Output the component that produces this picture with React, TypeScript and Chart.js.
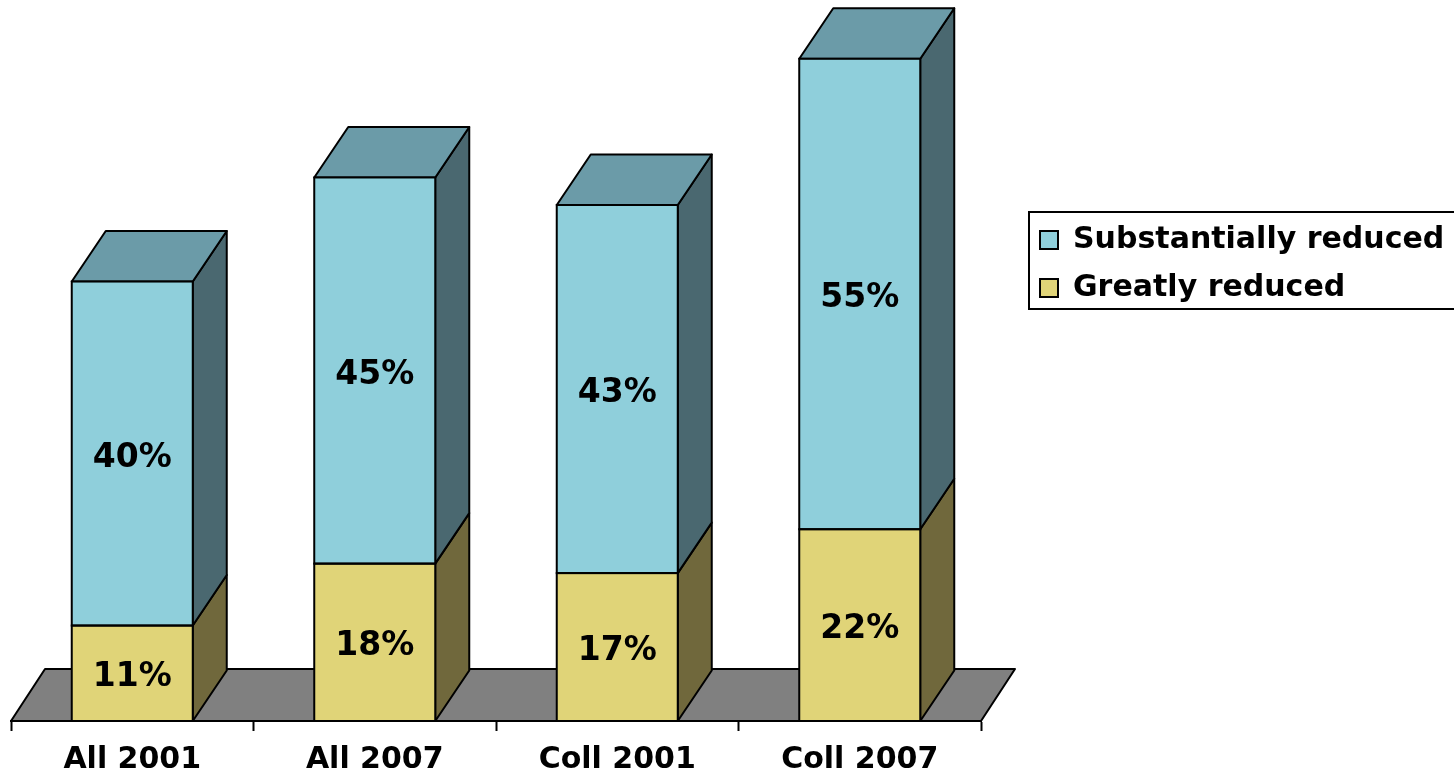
import React, { useEffect, useRef } from "react";
import { Chart, registerables } from "chart.js";

Chart.register(...registerables);

const categories = ["All 2001", "All 2007", "Coll 2001", "Coll 2007"];
const greatlyReduced = [11.1, 18.3, 17.2, 22.3];
const substantiallyReduced = [40, 44.9, 42.8, 54.7];
const greatlyLabels = ["11%", "18%", "17%", "22%"];
const substantiallyLabels = ["40%", "45%", "43%", "55%"];
const seriesNames = ["Greatly reduced", "Substantially reduced"];

const FONT = "'DejaVu Sans', sans-serif";
const DX = 34;
const DY = -50.5;
const INK = "#000000";
const LINE = 2;

const palette = [
  { front: "#E0D478", side: "#70683C", top: "#A89F5A" },
  { front: "#8FCFDB", side: "#4A6870", top: "#6B9BA8" },
];

function poly(ctx: CanvasRenderingContext2D, pts: number[][], fill: string) {
  ctx.beginPath();
  pts.forEach((p, i) => (i ? ctx.lineTo(p[0], p[1]) : ctx.moveTo(p[0], p[1])));
  ctx.closePath();
  ctx.fillStyle = fill;
  ctx.fill();
  ctx.stroke();
}

const depthPlugin = {
  id: "depth",
  afterLayout(chart: any) {
    const l = chart.legend;
    l.left = 1022;
    l.right = 1462;
    l.width = 440;
    l.top = 207;
    l.bottom = 407;
    l.height = 200;
  },
  beforeDatasetsDraw(chart: any) {
    const { ctx, chartArea } = chart;
    const y0 = chartArea.bottom;
    ctx.save();
    ctx.strokeStyle = INK;
    ctx.lineWidth = LINE;
    ctx.lineJoin = "round";
    poly(
      ctx,
      [
        [chartArea.left, y0],
        [chartArea.left + DX, y0 - 52],
        [chartArea.right + DX, y0 - 52],
        [chartArea.right, y0],
      ],
      "#808080"
    );
    chart.data.datasets.forEach((_: any, d: number) => {
      const meta = chart.getDatasetMeta(d);
      meta.data.forEach((bar: any) => {
        const p = bar.getProps(["x", "y", "base", "width"], true);
        const r = p.x + p.width / 2;
        const l = p.x - p.width / 2;
        poly(
          ctx,
          [
            [r, p.base],
            [r + DX, p.base + DY],
            [r + DX, p.y + DY],
            [r, p.y],
          ],
          palette[d].side
        );
        if (d === chart.data.datasets.length - 1) {
          poly(
            ctx,
            [
              [l, p.y],
              [l + DX, p.y + DY],
              [r + DX, p.y + DY],
              [r, p.y],
            ],
            palette[d].top
          );
        }
      });
    });
    ctx.restore();
  },
  afterDatasetsDraw(chart: any) {
    const { ctx } = chart;
    const texts = [greatlyLabels, substantiallyLabels];
    ctx.save();
    ctx.strokeStyle = INK;
    ctx.lineWidth = LINE;
    chart.data.datasets.forEach((_: any, d: number) => {
      chart.getDatasetMeta(d).data.forEach((bar: any) => {
        const p = bar.getProps(["x", "y", "base", "width"], true);
        ctx.strokeRect(p.x - p.width / 2, p.y, p.width, p.base - p.y);
      });
    });
    ctx.fillStyle = INK;
    ctx.font = `bold 33px ${FONT}`;
    ctx.textAlign = "center";
    ctx.textBaseline = "middle";
    chart.data.datasets.forEach((_: any, d: number) => {
      chart.getDatasetMeta(d).data.forEach((bar: any, i: number) => {
        const p = bar.getProps(["x", "y", "base"], true);
        ctx.fillText(texts[d][i], p.x, (p.y + p.base) / 2 + 4.5);
      });
    });
    ctx.restore();
  },
  afterDraw(chart: any) {
    const { ctx } = chart;
    ctx.save();
    ctx.strokeStyle = INK;
    ctx.lineWidth = LINE;
    ctx.strokeRect(1029, 212, 433, 97);
    ctx.restore();
  },
};

export default function App() {
  const ref = useRef<HTMLCanvasElement>(null);
  useEffect(() => {
    document.body.style.margin = "0";
    document.body.style.background = "#ffffff";
    const chart = new Chart(ref.current as HTMLCanvasElement, {
      type: "bar",
      data: {
        labels: categories,
        datasets: [
          {
            label: seriesNames[0],
            data: greatlyReduced,
            backgroundColor: palette[0].front,
            borderColor: INK,
            borderWidth: 0,
            barPercentage: 1,
            categoryPercentage: 0.499,
          },
          {
            label: seriesNames[1],
            data: substantiallyReduced,
            backgroundColor: palette[1].front,
            borderColor: INK,
            borderWidth: 0,
            barPercentage: 1,
            categoryPercentage: 0.499,
          },
        ],
      },
      options: {
        responsive: false,
        animation: false,
        events: [],
        layout: { padding: { left: 11, right: 473, top: 33, bottom: 0 } },
        scales: {
          x: {
            stacked: true,
            afterFit(scale: any) {
              scale.height = 52;
            },
            border: { display: true, color: INK, width: LINE },
            grid: {
              drawOnChartArea: false,
              drawTicks: true,
              tickLength: 10,
              tickColor: INK,
              tickWidth: LINE,
            },
            ticks: {
              color: INK,
              font: { family: FONT, weight: "bold", size: 30 },
              padding: 11,
              maxRotation: 0,
              autoSkip: false,
            },
          },
          y: { stacked: true, display: false, min: 0, max: 80 },
        },
        plugins: {
          tooltip: { enabled: false },
          title: { display: false },
          legend: {
            display: true,
            position: "chartArea",
            align: "start",
            reverse: true,
            labels: {
              color: INK,
              font: { family: FONT, weight: "bold", size: 30 },
              boxWidth: 18,
              boxHeight: 18,
              padding: 18,
              generateLabels(c: any) {
                return Chart.defaults.plugins.legend.labels
                  .generateLabels(c)
                  .map((item: any) => ({ ...item, lineWidth: LINE, strokeStyle: INK }));
              },
            },
          },
        },
      } as any,
      plugins: [depthPlugin],
    });
    return () => chart.destroy();
  }, []);
  return <canvas ref={ref} width={1454} height={773} style={{ display: "block" }} />;
}
